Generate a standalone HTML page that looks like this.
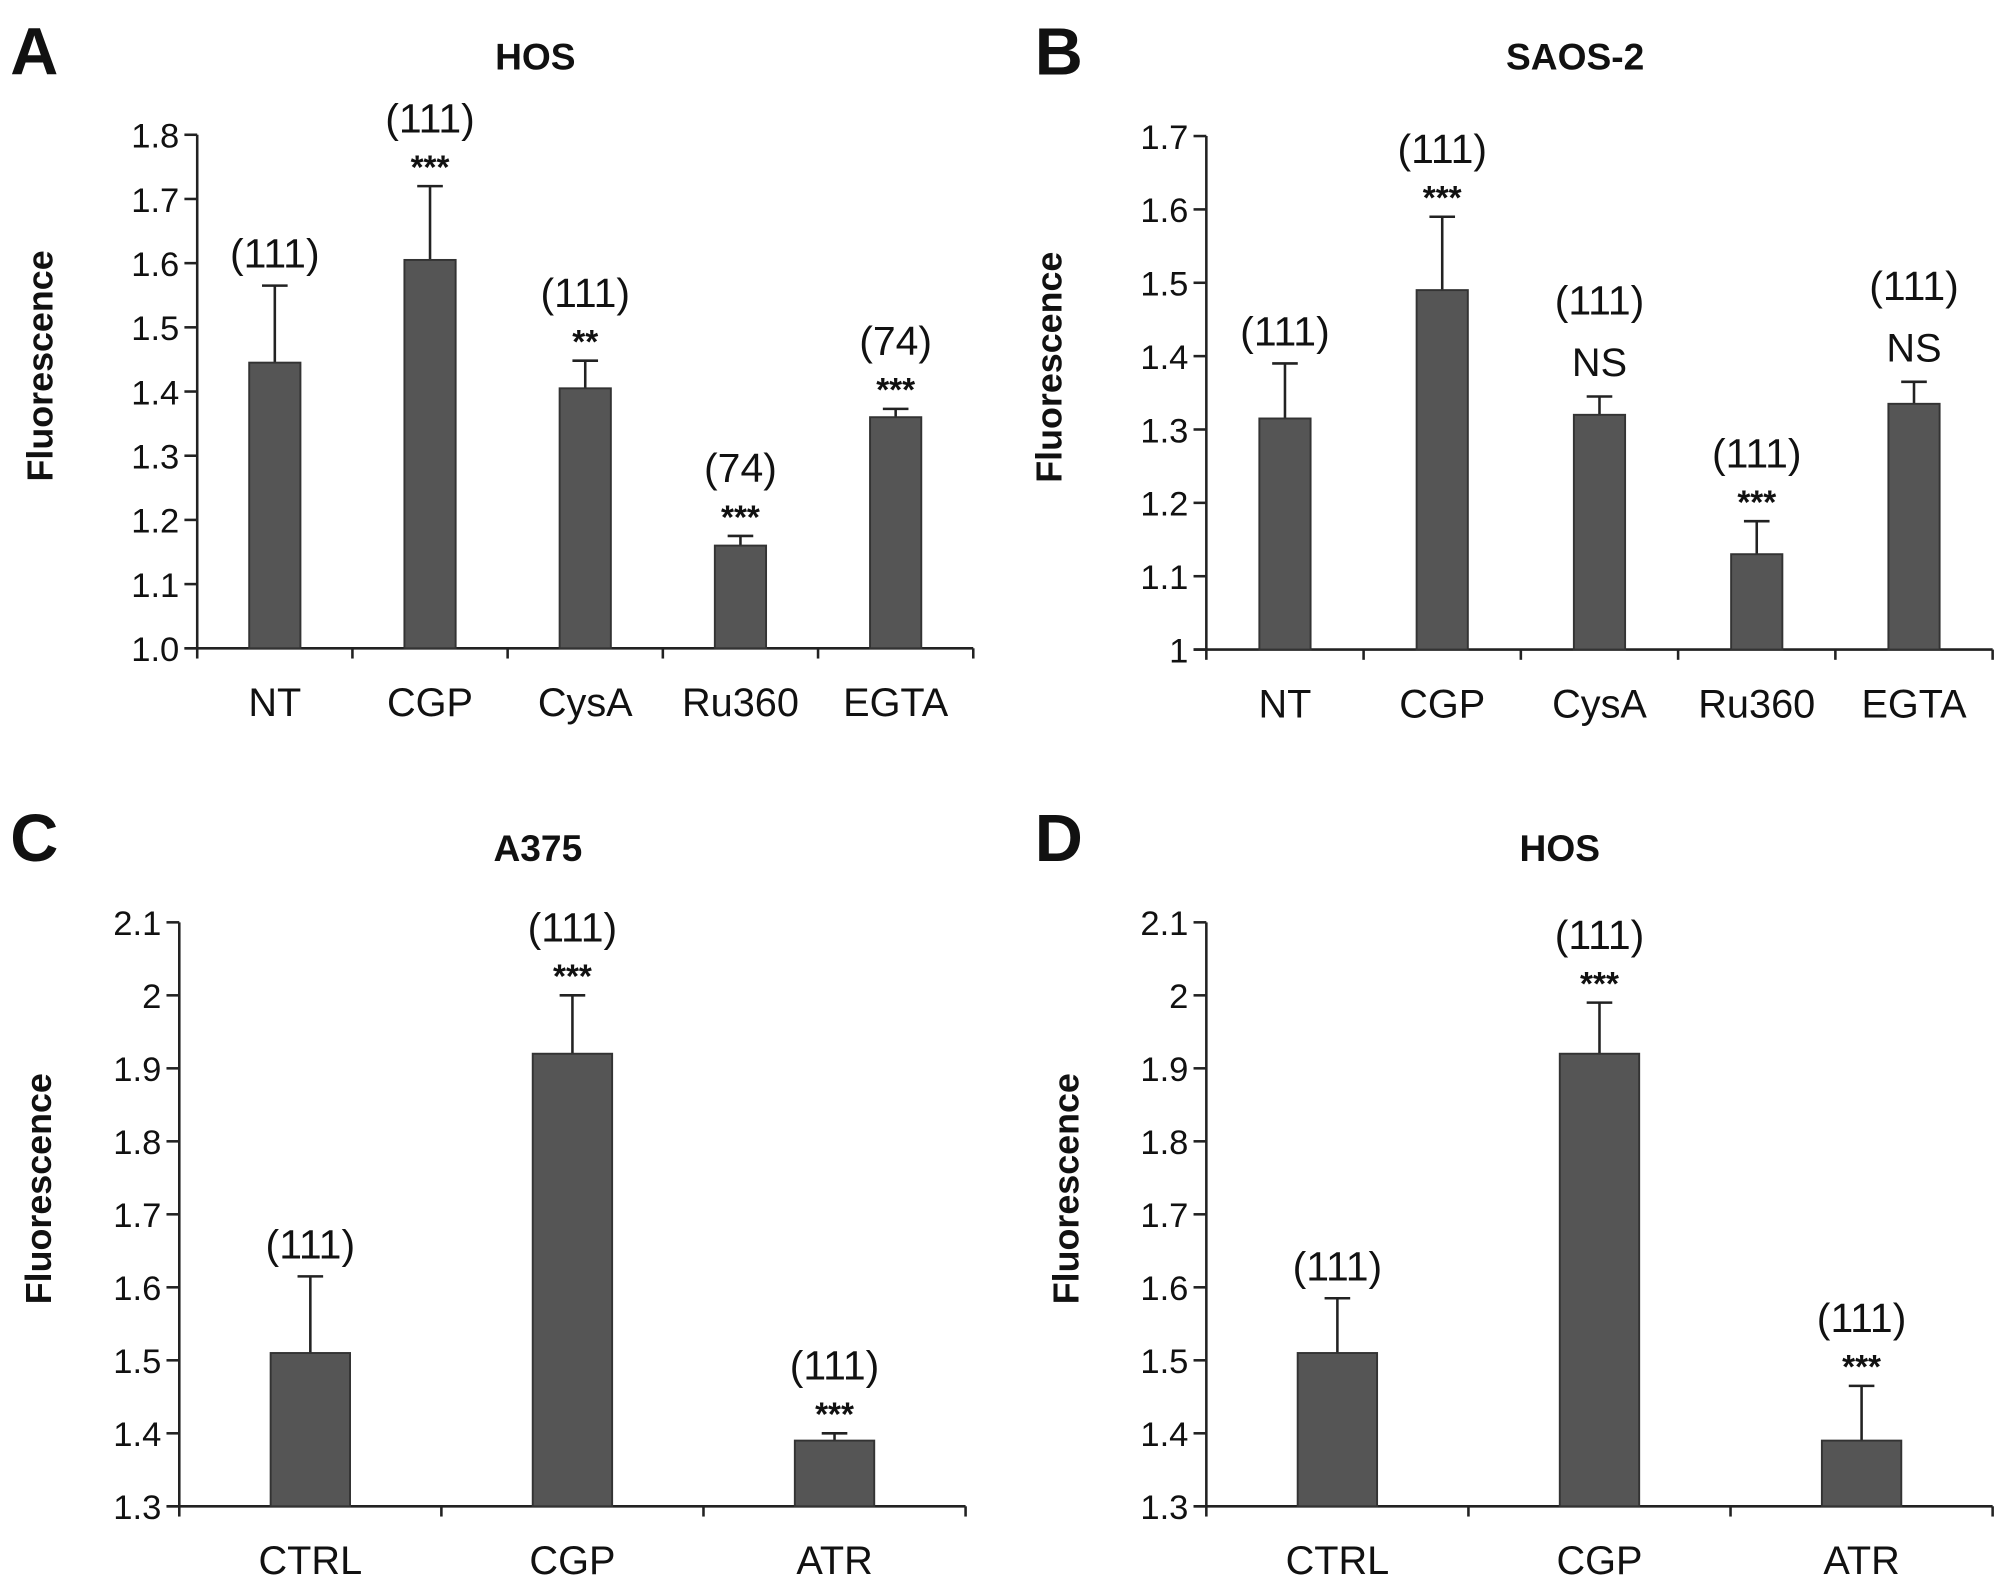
<!DOCTYPE html>
<html><head><meta charset="utf-8"><style>
html,body{margin:0;padding:0;background:#fff}
svg{display:block}
text{font-family:"Liberation Sans",Arial,sans-serif;fill:#111}
</style></head><body>
<svg id="fig" width="2008" height="1586" viewBox="0 0 1568 1238" xmlns="http://www.w3.org/2000/svg"></svg>
<script>
// Panel A (HOS)
const catsA=["NT","CGP","CysA","Ru360","EGTA"];
const valsA=[1.445,1.605,1.405,1.16,1.36];
const errA=[1.565,1.72,1.448,1.175,1.373];
const nA=["(111)","(111)","(111)","(74)","(74)"];
const sigA=["","***","**","***","***"];
const ticksA=["1.0","1.1","1.2","1.3","1.4","1.5","1.6","1.7","1.8"];
// Panel B (SAOS-2)
const catsB=["NT","CGP","CysA","Ru360","EGTA"];
const valsB=[1.315,1.49,1.32,1.13,1.335];
const errB=[1.39,1.59,1.345,1.175,1.365];
const nB=["(111)","(111)","(111)","(111)","(111)"];
const sigB=["","***","NS","***","NS"];
const ticksB=["1","1.1","1.2","1.3","1.4","1.5","1.6","1.7"];
// Panel C (A375)
const catsC=["CTRL","CGP","ATR"];
const valsC=[1.51,1.92,1.39];
const errC=[1.615,2.0,1.40];
const nC=["(111)","(111)","(111)"];
const sigC=["","***","***"];
const ticksC=["1.3","1.4","1.5","1.6","1.7","1.8","1.9","2","2.1"];
// Panel D (HOS)
const catsD=["CTRL","CGP","ATR"];
const valsD=[1.51,1.92,1.39];
const errD=[1.585,1.99,1.465];
const nD=["(111)","(111)","(111)"];
const sigD=["","***","***"];
const ticksD=ticksC;

const svg=document.getElementById('fig');
const NS="http://www.w3.org/2000/svg";
function mk(tag,attrs,parent){const e=document.createElementNS(NS,tag);for(const k in attrs)e.setAttribute(k,attrs[k]);(parent||svg).appendChild(e);return e;}
function txt(s,attrs,parent){const e=mk('text',attrs,parent);e.textContent=s;return e;}

function panel(id,letter,lx,ly,title,tx,ty,cfg,cats,vals,errs,ns,sigs,ticks){
  const g=mk('g',{});
  
  
  const {ax,x1,yTop,yBot,barW}=cfg;
  const lo=parseFloat(ticks[0]),hi=parseFloat(ticks[ticks.length-1]);
  const y=v=>yBot-(v-lo)/(hi-lo)*(yBot-yTop);
  const step=(x1-ax)/cats.length;
  const x=i=>ax+step*(i+0.5);
  const L=txt(letter,{x:lx,y:ly,'font-size':52,'font-weight':'bold'},g);
  
  
  const T=txt(title,{x:tx,y:ty,'font-size':29,'font-weight':'bold','fill':'#222','text-anchor':'middle'},g);
  
  
  const yt=txt('Fluorescence',{x:0,y:0,'font-size':28,'font-weight':'bold','text-anchor':'middle',transform:`translate(${ax-(id==='a'||id==='b'?113:100)},${(yTop+yBot)/2-20}) rotate(-90)`},g);
  
  
  const ya=mk('line',{x1:ax,y1:yTop,x2:ax,y2:yBot,stroke:'#222','stroke-width':2},g);
  
  
  const xa=mk('line',{x1:ax-10,y1:yBot,x2:x1,y2:yBot,stroke:'#222','stroke-width':2},g);
  
  
  ticks.forEach(t=>{
    const yy=y(parseFloat(t));
    mk('line',{x1:ax-10,y1:yy,x2:ax,y2:yy,stroke:'#222','stroke-width':2},g);
    const tl=txt(t,{x:ax-14,y:yy+10,'font-size':27,'text-anchor':'end'},g);
    
    
  });
  for(let i=0;i<=cats.length;i++){mk('line',{x1:ax+step*i,y1:yBot,x2:ax+step*i,y2:yBot+8,stroke:'#222','stroke-width':2},g);}
  cats.forEach((c,i)=>{
    const cx=x(i);
    const yv=y(vals[i]),ye=y(errs[i]);
    mk('line',{x1:cx,y1:yv,x2:cx,y2:ye,stroke:'#222','stroke-width':2},g);
    mk('line',{x1:cx-10,y1:ye,x2:cx+10,y2:ye,stroke:'#222','stroke-width':2},g);
    const b=mk('rect',{x:cx-barW/2,y:yv,width:barW,height:yBot-yv,fill:'#555',stroke:'#333','stroke-width':1.5},g);
    
    
    const cl=txt(c,{x:cx,y:yBot+53,'font-size':31,'text-anchor':'middle'},g);
    
    
    let ay=ye-14;
    if(sigs[i]){
      const big=sigs[i]==='NS';
      const s=txt(sigs[i],{x:cx,y:big?ay-2:ay+8,'font-size':big?31:26,'font-weight':big?'normal':'bold','text-anchor':'middle'},g);
      
      
      ay-=big?50:28;
    }
    const n=txt(ns[i],{x:cx,y:ay,'font-size':32,'text-anchor':'middle'},g);
    
    
  });
}
panel('a','A',8,58,'HOS',418,54,{ax:154,x1:760,yTop:105,yBot:506,barW:40},catsA,valsA,errA,nA,sigA,ticksA);
panel('b','B',808,58,'SAOS-2',1230,54,{ax:942,x1:1556,yTop:106,yBot:507,barW:40},catsB,valsB,errB,nB,sigB,ticksB);
panel('c','C',8,672,'A375',420,672,{ax:140,x1:754,yTop:720,yBot:1176,barW:62},catsC,valsC,errC,nC,sigC,ticksC);
panel('d','D',808,672,'HOS',1218,672,{ax:942,x1:1556,yTop:720,yBot:1176,barW:62},catsD,valsD,errD,nD,sigD,ticksD);
</script>
</body></html>
